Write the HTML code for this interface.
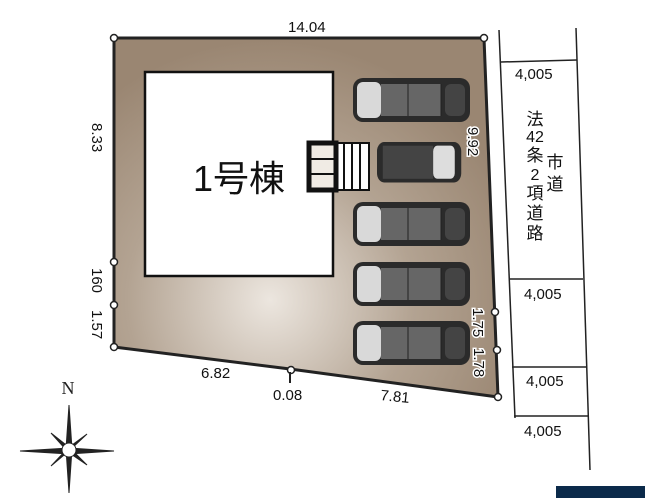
<!DOCTYPE html>
<html><head><meta charset="utf-8"><style>
body{margin:0;background:#fff;}
svg{display:block;font-family:"Liberation Sans","Noto Sans CJK JP",sans-serif;}
</style></head><body>
<svg width="645" height="498" viewBox="0 0 645 498">
<defs>
<radialGradient id="g" cx="270" cy="300" r="260" gradientUnits="userSpaceOnUse">
<stop offset="0" stop-color="#ece6df"/><stop offset="0.55" stop-color="#b3a392"/><stop offset="1" stop-color="#9a8672"/>
</radialGradient>
<g id="car">
<rect x="0" y="0" width="117" height="44" rx="10" fill="#2b2b2b"/>
<rect x="4" y="4" width="24" height="36" rx="6" fill="#d9d9d9"/>
<rect x="28" y="6" width="60" height="32" fill="#666"/>
<line x1="55" y1="6" x2="55" y2="38" stroke="#222"/>
<line x1="88" y1="6" x2="88" y2="38" stroke="#222"/>
<rect x="92" y="6" width="20" height="32" rx="6" fill="#444"/>
</g>
</defs>
<polygon points="114,38 484,38 498,397 290,369 114,347" fill="url(#g)" stroke="#222" stroke-width="3"/>
<rect x="145" y="72" width="188" height="204" fill="#fff" stroke="#111" stroke-width="2.5"/>
<text x="239" y="191" font-size="36" text-anchor="middle" fill="#111">1号棟</text>
<rect x="309" y="143" width="60" height="47" fill="#fff" stroke="#111" stroke-width="2"/>
<rect x="309" y="143" width="27" height="47" fill="#f0ebe4" stroke="#111" stroke-width="5"/>
<line x1="309" y1="159" x2="336" y2="159" stroke="#111" stroke-width="2"/>
<line x1="309" y1="174" x2="336" y2="174" stroke="#111" stroke-width="2"/>
<g stroke="#111" stroke-width="2"><line x1="344" y1="143" x2="344" y2="190"/><line x1="352" y1="143" x2="352" y2="190"/><line x1="360" y1="143" x2="360" y2="190"/></g>
<use href="#car" x="353" y="78"/>
<g transform="translate(377,142) scale(0.72,0.92)"><rect x="0" y="0" width="117" height="44" rx="10" fill="#2b2b2b"/><rect x="8" y="4" width="70" height="36" fill="#444"/><rect x="78" y="4" width="30" height="36" rx="6" fill="#ddd"/></g>
<use href="#car" x="353" y="202"/>
<use href="#car" x="353" y="262"/>
<use href="#car" x="353" y="321"/>
<g fill="#fff" stroke="#222" stroke-width="1.5">
<circle cx="114" cy="38" r="3.5"/><circle cx="484" cy="38" r="3.5"/><circle cx="498" cy="397" r="3.5"/>
<circle cx="114" cy="347" r="3.5"/><circle cx="114" cy="262" r="3.5"/><circle cx="114" cy="305" r="3.5"/>
<circle cx="495" cy="312" r="3.5"/><circle cx="497" cy="350" r="3.5"/><circle cx="291" cy="370" r="3.5"/>
</g>
<line x1="290" y1="372" x2="290" y2="383" stroke="#222" stroke-width="2"/>
<g font-size="15" fill="#111">
<text x="288" y="32">14.04</text>
<text x="201" y="378">6.82</text>
<text x="273" y="400">0.08</text>
<text x="380" y="400" transform="rotate(6 380 400)">7.81</text>
<text transform="translate(92,123) rotate(90)">8.33</text>
<text transform="translate(92,268) rotate(90)">160</text>
<text transform="translate(92,310) rotate(90)">1.57</text>
<text transform="translate(468,127) rotate(90)" stroke="#fff" stroke-width="3" paint-order="stroke">9.92</text>
<text transform="translate(473,308) rotate(90)" stroke="#fff" stroke-width="3" paint-order="stroke">1.75</text>
<text transform="translate(474,348) rotate(90)" stroke="#fff" stroke-width="3" paint-order="stroke">1.78</text>
</g>
<g stroke="#222" stroke-width="1.5" fill="none">
<line x1="499" y1="30" x2="515" y2="418"/><line x1="576" y1="28" x2="590" y2="470"/>
<line x1="501" y1="62" x2="577" y2="60"/><line x1="509" y1="279" x2="583" y2="279"/>
<line x1="512" y1="367" x2="586" y2="367"/><line x1="514" y1="416" x2="588" y2="416"/>
</g>
<g font-size="15" fill="#111">
<text x="515" y="79">4,005</text>
<text x="524" y="299">4,005</text>
<text x="526" y="386">4,005</text>
<text x="524" y="436">4,005</text>
</g>
<g font-size="17" fill="#111" text-anchor="middle">
<text x="535" y="125">法</text><text x="535" y="142" font-size="16">42</text><text x="535" y="161">条</text><text x="535" y="180" font-size="16">2</text><text x="535" y="199">項</text><text x="535" y="219">道</text><text x="535" y="239">路</text>
<text x="555" y="168">市</text><text x="555" y="190">道</text>
</g>
<text x="68" y="394" font-family="Liberation Serif,serif" font-size="18" text-anchor="middle" fill="#222">N</text>
<g fill="#222" stroke="#222" stroke-width="1">
<polygon points="69,405 72,449 69,493 66,449"/>
<polygon points="20,451 69,448 114,451 69,454"/>
<polygon points="51,433 70,448 87,465 68,452"/>
<polygon points="87,434 70,450 51,466 68,448"/>
</g>
<circle cx="69" cy="450" r="7" fill="#fff" stroke="#222"/>
<rect x="556" y="486" width="89" height="12" fill="#0b2a4a"/>
</svg>
</body></html>
